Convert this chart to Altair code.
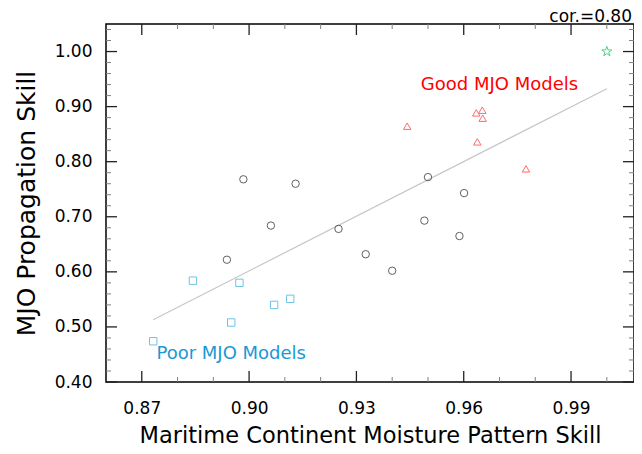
import altair as alt
import pandas as pd

# ---- data ----
circle_x = [0.8984, 0.9130, 0.9061, 0.9250, 0.8938, 0.9326, 0.9400, 0.9500, 0.9601, 0.9490, 0.9588]
circle_y = [0.768, 0.760, 0.684, 0.678, 0.622, 0.632, 0.602, 0.772, 0.743, 0.693, 0.665]
square_x = [0.8732, 0.8843, 0.8973, 0.8950, 0.9070, 0.9115]
square_y = [0.474, 0.584, 0.580, 0.508, 0.540, 0.551]
triangle_x = [0.9442, 0.9635, 0.9652, 0.9653, 0.9638, 0.9774]
triangle_y = [0.8645, 0.8886, 0.8935, 0.879, 0.836, 0.787]
obs_x = [1.0]
obs_y = [1.0]

groups = ["Other", "Poor", "Good"]

x_major = [0.87, 0.90, 0.93, 0.96, 0.99]
x_minor = [0.88, 0.89, 0.91, 0.92, 0.94, 0.95, 0.97, 0.98, 1.00]
y_major = [0.40, 0.50, 0.60, 0.70, 0.80, 0.90, 1.00]
y_minor = [0.42, 0.44, 0.46, 0.48, 0.52, 0.54, 0.56, 0.58, 0.62, 0.64, 0.66, 0.68,
           0.72, 0.74, 0.76, 0.78, 0.82, 0.84, 0.86, 0.88, 0.92, 0.94, 0.96, 0.98,
           1.02, 1.04]

ann_text = ["Good MJO Models", "Poor MJO Models"]
ann_x = [0.970, 0.895]
ann_y = [0.939, 0.450]
ann_group = ["Good", "Poor"]

corr_label = ["cor.=0.80"]

# ---- tables ----
df = pd.DataFrame({
    "x": circle_x + square_x + triangle_x,
    "y": circle_y + square_y + triangle_y,
    "group": ["Other"] * len(circle_x) + ["Poor"] * len(square_x) + ["Good"] * len(triangle_x),
})
obs = pd.DataFrame({"x": obs_x, "y": obs_y})
all_df = pd.concat([df[["x", "y"]], obs], ignore_index=True)
ann = pd.DataFrame({"text": ann_text, "x": ann_x, "y": ann_y, "tgroup": ann_group})
cor = pd.DataFrame({"text": corr_label})
xmaj = pd.DataFrame({"v": x_major})
xmin = pd.DataFrame({"v": x_minor})
ymaj = pd.DataFrame({"v": y_major})
ymin = pd.DataFrame({"v": y_minor})

W, H = 528, 358
X0, X1 = 0.86, 1.0076
Y0, Y1 = 0.40, 1.05
FONT = "DejaVu Sans"
xs = alt.Scale(domain=[X0, X1], nice=False, zero=False)
ys = alt.Scale(domain=[Y0, Y1], nice=False, zero=False)

STAR = ("M0,-1L0.2245,-0.309L0.951,-0.309L0.363,0.118L0.588,0.809L0,0.382"
        "L-0.588,0.809L-0.363,0.118L-0.951,-0.309L-0.2245,-0.309Z")

ax_x = alt.Axis(values=x_major, format=".2f", ticks=False, domain=False, grid=False,
                labelFont=FONT, labelFontSize=17, labelColor="black", labelPadding=18,
                labelFlush=False, title="Maritime Continent Moisture Pattern Skill",
                titleFont=FONT, titleFontSize=22.5, titleFontWeight="normal", titleColor="black",
                titlePadding=8)
ax_y = alt.Axis(values=y_major, format=".2f", ticks=False, domain=False, grid=False,
                labelFont=FONT, labelFontSize=17, labelColor="black", labelPadding=14,
                labelFlush=False, title="MJO Propagation Skill",
                titleFont=FONT, titleFontSize=25, titleFontWeight="normal", titleColor="black",
                titlePadding=15)

# tick lengths in pixels, converted to data units of each scale
MAJ, MIN = 11, 5
px_x = (X1 - X0) / W
px_y = (Y1 - Y0) / H


def xticks(data, length, color, width):
    d = length * px_y
    enc = dict(x=alt.X("v:Q", scale=xs, axis=ax_x))
    bottom = alt.Chart(data).mark_rule(color=color, strokeWidth=width, opacity=1).encode(
        y=alt.datum(Y0), y2=alt.datum(Y0 + d), **enc)
    top = alt.Chart(data).mark_rule(color=color, strokeWidth=width, opacity=1).encode(
        y=alt.datum(Y1), y2=alt.datum(Y1 - d), **enc)
    return [bottom, top]


def yticks(data, length, color, width):
    d = length * px_x
    enc = dict(y=alt.Y("v:Q", scale=ys, axis=ax_y))
    left = alt.Chart(data).mark_rule(color=color, strokeWidth=width, opacity=1).encode(
        x=alt.datum(X0), x2=alt.datum(X0 + d), **enc)
    right = alt.Chart(data).mark_rule(color=color, strokeWidth=width, opacity=1).encode(
        x=alt.datum(X1), x2=alt.datum(X1 - d), **enc)
    return [left, right]


line = alt.Chart(all_df).transform_regression("x", "y").mark_line(
    color="#c6c6c6", strokeWidth=1.2
).encode(
    x=alt.X("x:Q", scale=xs, axis=ax_x),
    y=alt.Y("y:Q", scale=ys, axis=ax_y),
)

points = alt.Chart(df).mark_point(filled=False, strokeWidth=1, size=55, opacity=1).encode(
    x=alt.X("x:Q", scale=xs, axis=ax_x),
    y=alt.Y("y:Q", scale=ys, axis=ax_y),
    shape=alt.Shape("group:N", scale=alt.Scale(domain=groups, range=["circle", "square", "triangle-up"]),
                    legend=None),
    color=alt.Color("group:N", scale=alt.Scale(domain=groups, range=["#606060", "#6cc3e4", "#ff6b6b"]),
                    legend=None),
)

star = alt.Chart(obs).mark_point(shape=STAR, filled=False, strokeWidth=1, size=110, opacity=1,
                                 color="#4fd487").encode(
    x=alt.X("x:Q", scale=xs, axis=ax_x),
    y=alt.Y("y:Q", scale=ys, axis=ax_y),
)

labels = alt.Chart(ann).mark_text(font=FONT, fontSize=18, align="center", baseline="middle").encode(
    x=alt.X("x:Q", scale=xs, axis=ax_x),
    y=alt.Y("y:Q", scale=ys, axis=ax_y),
    text="text:N",
    color=alt.Color("tgroup:N", scale=alt.Scale(domain=["Good", "Poor"], range=["#ff0000", "#1a98d5"]),
                    legend=None),
)

cor_text = alt.Chart(cor).mark_text(font=FONT, fontSize=17, align="right", baseline="alphabetic",
                                    dx=-2, dy=-2.5, color="black").encode(
    x=alt.datum(X1, scale=xs),
    y=alt.datum(Y1, scale=ys),
    text="text:N",
)

layers = ([line, points, star, labels, cor_text]
          + xticks(xmaj, MAJ, "#222222", 1.3) + xticks(xmin, MIN, "#808080", 1)
          + yticks(ymaj, MAJ, "#222222", 1.3) + yticks(ymin, MIN, "#808080", 1))

chart = alt.layer(*layers).resolve_scale(color="independent").properties(
    width=W,
    height=H,
    autosize=alt.AutoSizeParams(type="none"),
    padding={"left": 98, "top": 16, "right": 0, "bottom": 64},
).configure_view(stroke="black", strokeWidth=1.5)

chart.save("out.html", embed_options={"renderer": "svg", "actions": False})
